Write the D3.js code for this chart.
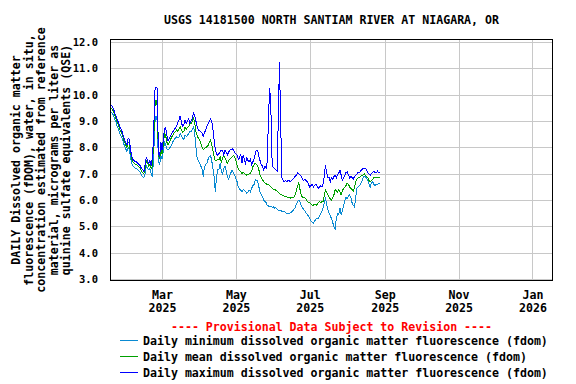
<!DOCTYPE html>
<html>
<head>
<meta charset="utf-8">
<script src="https://cdn.jsdelivr.net/npm/d3@7"></script>
<style>
  html, body { margin: 0; padding: 0; background: #fff; }
  svg { display: block; }
  text { font-family: "DejaVu Sans Mono", "Liberation Mono", monospace; font-weight: bold; }
</style>
</head>
<body>
<svg id="chart" width="576" height="384"></svg>
<script>
// daily fDOM values, first day 2025-01-17 (one value per day)
const startDay = "2025-01-17";

const fdomMax = [
  9.6, 9.6, 9.55, 9.45, 9.3, 9.2, 9.05, 8.95, 8.8, 8.7,
  8.6, 8.45, 8.3, 8.2, 8.1, 8.35, 8.3, 7.9, 7.65, 7.55,
  7.5, 7.45, 7.45, 7.4, 7.35, 7.3, 7.2, 7.15, 7.1, 7.35,
  7.65, 7.5, 7.4, 7.5, 7.3, 7.6, 8.4, 10.15, 10.3, 10.25,
  7.8, 7.65, 8.2, 7.9, 8.3, 8.7, 8.75, 8.45, 8.25, 8.35,
  8.45, 8.54, 8.6, 8.68, 8.74, 8.8, 8.95, 9.05, 9.2, 8.95,
  8.8, 8.85, 9.05, 8.92, 9.0, 9.1, 8.92, 9.0, 9.1, 9.3,
  9.2, 9.0, 8.78, 8.66, 8.66, 8.6, 8.54, 8.42, 8.55, 8.66,
  8.79, 8.9, 9.0, 9.07, 9.0, 8.7, 8.3, 7.95, 7.75, 7.7,
  7.77, 7.85, 7.9, 7.88, 7.72, 7.9, 7.8, 7.72, 7.83, 7.9,
  7.92, 7.96, 7.9, 7.8, 7.75, 7.7, 7.55, 7.6, 7.75, 7.4,
  7.7, 7.55, 7.4, 7.6, 7.5, 7.45, 7.55, 7.35, 7.45, 7.55,
  7.77, 7.9, 7.9, 7.65, 7.5, 7.35, 7.3, 7.15, 7.3, 7.2,
  7.5, 9.3, 10.25, 9.3, 7.3, 7.25, 7.2, 7.15, 7.1, 8.95,
  11.25, 8.95, 6.85, 6.75, 6.7, 6.75, 6.7, 6.75, 6.75, 6.7,
  6.75, 6.8, 6.85, 6.9, 6.95, 7.05, 7.0, 6.95, 6.9, 6.8,
  6.75, 6.8, 6.75, 6.7, 6.6, 6.5, 6.55, 6.6, 6.5, 6.55,
  6.6, 6.55, 6.45, 6.5, 6.55, 6.5, 6.6, 6.9, 7.33, 7.05,
  6.85, 6.85, 6.7, 6.85, 6.8, 6.9, 6.95, 6.85, 6.95, 7.03,
  7.14, 6.95, 6.75, 6.85, 6.95, 7.05, 7.07, 6.95, 6.85, 6.9,
  6.85, 6.8, 6.9, 6.95, 7.0, 7.05, 7.05, 7.1, 7.15, 7.2,
  7.2, 7.2, 7.15, 7.05, 7.0, 6.95, 7.0, 7.05, 7.1, 7.05,
  7.05, 7.1, 7.05, 7.05
];

const fdomMean = [
  9.5, 9.5, 9.45, 9.35, 9.2, 9.1, 8.95, 8.85, 8.7, 8.6,
  8.5, 8.35, 8.2, 8.1, 8.0, 8.2, 8.15, 7.8, 7.55, 7.45,
  7.4, 7.35, 7.35, 7.3, 7.25, 7.2, 7.1, 7.05, 7.0, 7.2,
  7.5, 7.4, 7.3, 7.35, 7.2, 7.3, 8.1, 9.5, 9.8, 9.6,
  7.7, 7.55, 7.95, 7.75, 8.1, 8.55, 8.45, 8.2, 8.1, 8.2,
  8.3, 8.4, 8.47, 8.55, 8.6, 8.66, 8.62, 8.7, 8.79, 8.66,
  8.58, 8.6, 8.78, 8.7, 8.75, 8.8, 8.9, 8.92, 9.0, 9.1,
  8.95, 8.6, 8.45, 8.35, 8.28, 8.15, 8.03, 7.92, 7.95, 8.0,
  8.03, 8.08, 8.2, 8.28, 8.1, 7.9, 7.65, 7.5, 7.5, 7.55,
  7.52, 7.64, 7.45, 7.6, 7.7, 7.6, 7.5, 7.4, 7.5, 7.55,
  7.6, 7.66, 7.7, 7.65, 7.5, 7.33, 7.2, 7.12, 7.08, 7.02,
  7.05, 7.02, 6.98, 6.95, 6.98, 7.0, 7.02, 7.1, 7.27, 7.35,
  7.4, 7.36, 7.3, 7.15, 6.95, 6.85, 6.78, 6.7, 6.65, 6.62,
  6.58, 6.6, 6.55, 6.5, 6.45, 6.42, 6.4, 6.38, 6.35, 6.3,
  6.25, 6.22, 6.2, 6.18, 6.15, 6.15, 6.12, 6.1, 6.1, 6.08,
  6.1, 6.1, 6.12, 6.2, 6.35, 6.55, 6.65, 6.4, 6.2, 6.1,
  6.1, 6.08, 6.05, 5.95, 5.9, 5.9, 5.85, 5.8, 5.8, 5.85,
  5.85, 5.8, 5.9, 5.95, 5.9, 5.95, 5.95, 6.15, 6.4, 6.3,
  6.2, 6.1, 6.05, 6.0, 6.1, 6.2, 6.4, 6.35, 6.3, 6.4,
  6.3, 6.2, 6.35, 6.45, 6.5, 6.55, 6.65, 6.6, 6.5, 6.45,
  6.4, 6.35, 6.45, 6.7, 6.8, 6.85, 6.85, 6.9, 6.95, 6.95,
  7.0, 6.95, 6.9, 6.85, 6.75, 6.7, 6.75, 6.8, 6.85, 6.85,
  6.85, 6.85, 6.85, 6.85
];

const fdomMin = [
  9.35, 9.35, 9.3, 9.2, 9.05, 8.95, 8.8, 8.7, 8.55, 8.45,
  8.35, 8.2, 8.05, 7.95, 7.85, 8.0, 7.95, 7.6, 7.4, 7.3,
  7.25, 7.2, 7.2, 7.15, 7.1, 7.05, 6.95, 6.9, 6.85, 7.0,
  7.3, 7.2, 7.15, 7.2, 7.0, 6.9, 7.6, 8.9, 9.2, 9.0,
  7.5, 7.35, 7.7, 7.55, 7.85, 8.2, 8.1, 7.95, 7.9, 7.95,
  8.03, 8.12, 8.22, 8.3, 8.35, 8.41, 8.38, 8.4, 8.54, 8.45,
  8.35, 8.3, 8.47, 8.42, 8.45, 8.54, 8.62, 8.6, 8.7, 8.79,
  8.54, 8.0, 7.6, 7.5, 7.4, 7.3, 7.2, 6.9, 7.25, 7.35,
  7.4, 7.55, 7.65, 7.7, 7.52, 7.2, 6.9, 6.3, 6.9, 7.15,
  7.15, 7.4, 7.1, 7.0, 7.2, 7.3, 7.1, 6.9, 6.8, 6.95,
  7.05, 7.14, 7.05, 6.95, 6.8, 6.7, 6.5, 6.42, 6.38, 6.32,
  6.4, 6.38, 6.32, 6.26, 6.3, 6.38, 6.32, 6.45, 6.55, 6.6,
  6.77, 6.75, 6.72, 6.5, 6.3, 6.2, 6.13, 6.0, 5.95, 5.9,
  5.8, 5.78, 5.75, 5.78, 5.72, 5.75, 5.7, 5.72, 5.65, 5.62,
  5.6, 5.62, 5.58, 5.55, 5.58, 5.52, 5.5, 5.48, 5.5, 5.52,
  5.55, 5.6, 5.65, 5.72, 5.85, 5.95, 6.0, 5.92, 5.8, 5.7,
  5.65, 5.6, 5.52, 5.45, 5.4, 5.3, 5.22, 5.15, 5.12, 5.2,
  5.28, 5.32, 5.3, 5.4, 5.48, 5.55, 5.7, 5.9, 6.05, 5.85,
  5.65, 5.5, 5.4, 5.3, 5.15, 5.0, 4.9, 5.3, 5.5, 5.45,
  5.7, 5.45, 5.6, 5.8, 6.0, 6.1, 6.05, 6.15, 6.2, 6.1,
  5.9, 5.8, 5.75, 6.1, 6.45, 6.5, 6.55, 6.6, 6.7, 6.85,
  6.9, 6.88, 6.85, 6.75, 6.6, 6.5, 6.65, 6.7, 6.6, 6.55,
  6.6, 6.6, 6.65, 6.65
];

const yTicks = [3, 4, 5, 6, 7, 8, 9, 10, 11, 12];
const xTickDates = ["2025-03-01", "2025-05-01", "2025-07-01", "2025-09-01", "2025-11-01", "2026-01-01"];

const titleText = "USGS 14181500 NORTH SANTIAM RIVER AT NIAGARA, OR";
const yTitleLines = [
  "DAILY Dissolved organic matter",
  "fluorescence (fDOM), water, in situ,",
  "concentration estimated from reference",
  "material, micrograms per liter as",
  "quinine sulfate equivalents (QSE)"
];
const provisionalText = "---- Provisional Data Subject to Revision ----";
const legendItems = [
  { label: "Daily minimum dissolved organic matter fluorescence (fdom)", color: "#0a8ad2", values: fdomMin },
  { label: "Daily mean dissolved organic matter fluorescence (fdom)", color: "#00a000", values: fdomMean },
  { label: "Daily maximum dissolved organic matter fluorescence (fdom)", color: "#0000ff", values: fdomMax }
];

const W = 576, H = 384;
const margin = { top: 39, right: 23, bottom: 103, left: 110 };
const plotW = W - margin.left - margin.right;
const plotH = H - margin.top - margin.bottom;

const parse = d3.utcParse("%Y-%m-%d");
const day0 = parse(startDay);
const dates = fdomMax.map((_, i) => d3.utcDay.offset(day0, i));

const x = d3.scaleUtc()
  .domain([parse("2025-01-17"), parse("2026-01-18")])
  .range([margin.left, margin.left + plotW]);

const y = d3.scaleLinear()
  .domain([2.93, 12.12])
  .range([margin.top + plotH, margin.top]);

const svg = d3.select("#chart");
svg.append("rect").attr("width", W).attr("height", H).attr("fill", "#fff");

// grid
const grid = svg.append("g").attr("shape-rendering", "crispEdges");
grid.selectAll("line.h")
  .data(yTicks)
  .enter().append("line")
  .attr("x1", margin.left).attr("x2", margin.left + plotW)
  .attr("y1", d => Math.round(y(d)) + 0.5).attr("y2", d => Math.round(y(d)) + 0.5)
  .attr("stroke", "#c8c8c8");
grid.selectAll("line.v")
  .data(xTickDates.map(parse))
  .enter().append("line")
  .attr("x1", d => Math.round(x(d)) + 0.5).attr("x2", d => Math.round(x(d)) + 0.5)
  .attr("y1", margin.top).attr("y2", margin.top + plotH)
  .attr("stroke", "#c8c8c8");

// y axis labels
svg.append("g")
  .attr("transform", `translate(${margin.left},0)`)
  .call(d3.axisLeft(y).tickValues(yTicks).tickFormat(d3.format(".1f")).tickSize(0).tickPadding(12))
  .call(g => g.select(".domain").remove())
  .call(g => g.selectAll("text").attr("font-size", 10.5).attr("fill", "#000")
    .attr("font-family", "DejaVu Sans Mono").attr("font-weight", "bold"));

// x axis labels: month and year as two separate texts
const xAxis = svg.append("g")
  .attr("transform", `translate(0,${margin.top + plotH})`)
  .call(d3.axisBottom(x).tickValues(xTickDates.map(parse)).tickSize(0).tickFormat(""))
  .call(g => g.select(".domain").remove());
xAxis.selectAll(".tick").each(function (d) {
  const tick = d3.select(this);
  tick.append("text")
    .attr("fill", "#000").attr("text-anchor", "middle")
    .attr("font-size", 11.6).attr("y", 18)
    .text(d3.utcFormat("%b")(d));
  tick.append("text")
    .attr("fill", "#000").attr("text-anchor", "middle")
    .attr("font-size", 11.6).attr("y", 31)
    .text(d3.utcFormat("%Y")(d));
});

// series
const line = d3.line()
  .x((d, i) => x(dates[i]))
  .y(d => y(d));

svg.append("g")
  .selectAll("path")
  .data(legendItems)
  .enter().append("path")
  .attr("d", d => line(d.values))
  .attr("fill", "none")
  .attr("stroke", d => d.color)
  .attr("stroke-width", 1)
  .attr("shape-rendering", "crispEdges");

// frame
svg.append("rect")
  .attr("x", margin.left + 0.5).attr("y", margin.top + 0.5)
  .attr("width", plotW - 1).attr("height", plotH - 1)
  .attr("fill", "none").attr("stroke", "#000")
  .attr("shape-rendering", "crispEdges");

// title
svg.append("text")
  .attr("x", margin.left + plotW / 2).attr("y", 24)
  .attr("text-anchor", "middle").attr("font-size", 11.6)
  .text(titleText);

// y title, rotated, one text per line
const yTitle = svg.append("g")
  .attr("transform", `translate(0,${margin.top + plotH / 2}) rotate(-90)`);
yTitleLines.forEach((s, i) => {
  yTitle.append("text")
    .attr("x", 0).attr("y", 20 + i * 12.5)
    .attr("text-anchor", "middle").attr("font-size", 11.6)
    .text(s);
});

// provisional note + legend
svg.append("text")
  .attr("x", margin.left + plotW / 2).attr("y", 331)
  .attr("text-anchor", "middle").attr("font-size", 11.6)
  .attr("fill", "#ff0000")
  .text(provisionalText);

const legend = svg.append("g");
legendItems.forEach((item, i) => {
  const cy = 340.5 + i * 16;
  legend.append("line")
    .attr("x1", 120).attr("x2", 138)
    .attr("y1", cy).attr("y2", cy)
    .attr("stroke", item.color).attr("shape-rendering", "crispEdges");
  legend.append("text")
    .attr("x", 143).attr("y", cy + 4)
    .attr("font-size", 11.6)
    .text(item.label);
});
</script>
</body>
</html>
